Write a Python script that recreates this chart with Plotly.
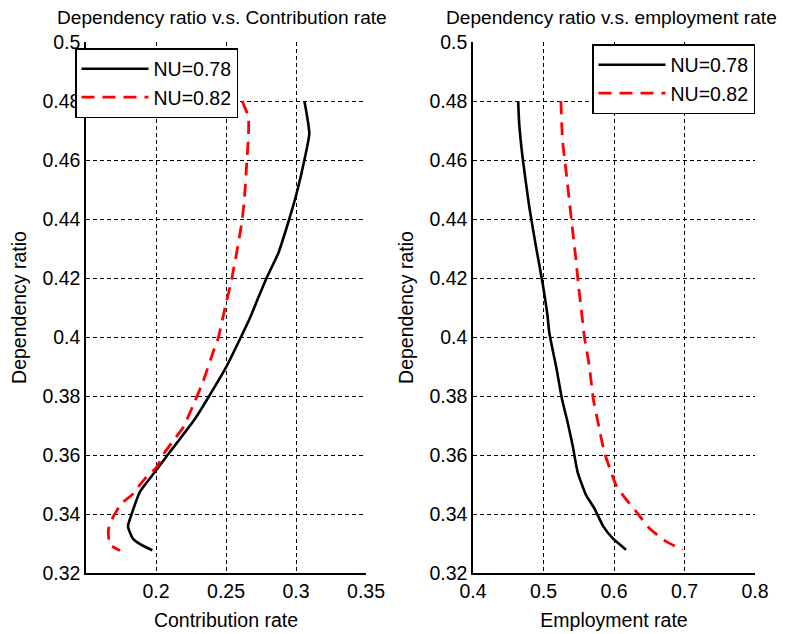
import plotly.graph_objects as go

# ---- data ----
contrib_y_078 = [0.480, 0.469, 0.460, 0.4488, 0.440, 0.4285, 0.420, 0.4128, 0.406, 0.400,
                 0.3895, 0.380, 0.3723, 0.360, 0.3543, 0.3476, 0.340, 0.3358, 0.3318, 0.3298, 0.3277]
contrib_x_078 = [0.306, 0.3095, 0.306, 0.3005, 0.2952, 0.2874, 0.279, 0.2726, 0.2667, 0.2607,
                 0.2498, 0.238, 0.2279, 0.2083, 0.1993, 0.1886, 0.1826, 0.180, 0.1833, 0.1886, 0.1974]

contrib_y_082 = [0.480, 0.4746, 0.4679, 0.4589, 0.4465, 0.4386, 0.4285, 0.4195, 0.4088, 0.3997,
                 0.3952, 0.3851, 0.3784, 0.3694, 0.3649, 0.3610, 0.3559, 0.3520, 0.3464, 0.3436,
                 0.3391, 0.3347, 0.3297, 0.3276]
contrib_x_082 = [0.2615, 0.266, 0.266, 0.2648, 0.2631, 0.2612, 0.2576, 0.254, 0.2488, 0.2445,
                 0.241, 0.2338, 0.2279, 0.2195, 0.2124, 0.2064, 0.2005, 0.1921, 0.1826, 0.1755,
                 0.1695, 0.166, 0.1671, 0.1743]

employ_y_078 = [0.480, 0.4724, 0.4611, 0.4443, 0.4308, 0.4184, 0.4072, 0.4016, 0.3892, 0.3791,
                0.3712, 0.3634, 0.3543, 0.3465, 0.3420, 0.3358, 0.3318, 0.3279]
employ_x_078 = [0.4641, 0.4655, 0.4702, 0.4797, 0.4892, 0.4986, 0.5057, 0.5081, 0.5185, 0.5261,
                0.5341, 0.5412, 0.5483, 0.5602, 0.572, 0.5848, 0.598, 0.617]

employ_y_082 = [0.480, 0.4667, 0.4566, 0.4465, 0.4364, 0.4263, 0.4173, 0.4105, 0.4004, 0.3903,
                0.3791, 0.3701, 0.3611, 0.3543, 0.3499, 0.3465, 0.3409, 0.3352, 0.3307, 0.3279]
employ_x_082 = [0.5247, 0.527, 0.5318, 0.5365, 0.5412, 0.546, 0.5497, 0.5531, 0.5578, 0.5649,
                0.5706, 0.5781, 0.5862, 0.5957, 0.6028, 0.6122, 0.6312, 0.6501, 0.6738, 0.6974]

series_names = ["NU=0.78", "NU=0.82"]
titles = ["Dependency ratio v.s. Contribution rate", "Dependency ratio v.s. employment rate"]
x_titles = ["Contribution rate", "Employment rate"]
y_title = "Dependency ratio"
x1_ticks = [0.2, 0.25, 0.3, 0.35]
x1_text = ["0.2", "0.25", "0.3", "0.35"]
x2_ticks = [0.4, 0.5, 0.6, 0.7, 0.8]
x2_text = ["0.4", "0.5", "0.6", "0.7", "0.8"]
y_ticks = [0.32, 0.34, 0.36, 0.38, 0.40, 0.42, 0.44, 0.46, 0.48, 0.50]
y_text = ["0.32", "0.34", "0.36", "0.38", "0.4", "0.42", "0.44", "0.46", "0.48", "0.5"]

FONT = "Liberation Sans, Arial, sans-serif"
FS = 19.5
FS_TITLE = 19.1
OFF = 8               # page body margin
W, H = 788 - OFF, 634 - OFF

fig = go.Figure()
black = dict(color="black", width=2.6, shape="spline", smoothing=0.5)
red = dict(color="#ff0000", width=2.8, dash="13px,8px", shape="spline", smoothing=0.5)

fig.add_trace(go.Scatter(x=contrib_x_078, y=contrib_y_078, mode="lines", name=series_names[0],
                         line=black, xaxis="x", yaxis="y", legend="legend"))
fig.add_trace(go.Scatter(x=contrib_x_082, y=contrib_y_082, mode="lines", name=series_names[1],
                         line=red, xaxis="x", yaxis="y", legend="legend"))
fig.add_trace(go.Scatter(x=employ_x_078, y=employ_y_078, mode="lines", name=series_names[0],
                         line=black, xaxis="x2", yaxis="y2", legend="legend2"))
fig.add_trace(go.Scatter(x=employ_x_082, y=employ_y_082, mode="lines", name=series_names[1],
                         line=red, xaxis="x2", yaxis="y2", legend="legend2"))

# plot areas (window px, converted to figure px by OFF)
L1, R1 = 86 - OFF, 366 - OFF
L2, R2 = 473 - OFF, 755 - OFF
TOP, BOT = 42 - OFF, 573 - OFF
dx1 = [L1 / W, R1 / W]
dx2 = [L2 / W, R2 / W]
dy = [1 - BOT / H, 1 - TOP / H]

axis_common = dict(showgrid=True, gridcolor="black", gridwidth=1, griddash="4px,3px",
                   showline=True, linecolor="black", linewidth=1.5, mirror=False,
                   zeroline=False, ticks="", automargin=False,
                   tickfont=dict(family=FONT, size=FS, color="black"))

fig.update_layout(
    width=W, height=H,
    margin=dict(l=0, r=0, t=0, b=0),
    paper_bgcolor="white", plot_bgcolor="white",
    font=dict(family=FONT, size=FS, color="black"),
    xaxis=dict(domain=dx1, anchor="y", range=[0.15, 0.3500001], tickvals=x1_ticks, ticktext=x1_text,
               title=dict(text=x_titles[0], standoff=12, font=dict(size=FS)), **axis_common),
    yaxis=dict(domain=dy, anchor="x", range=[0.32, 0.5000001], tickvals=y_ticks, ticktext=y_text,
               title=dict(text=y_title, standoff=19, font=dict(size=FS)), **axis_common),
    xaxis2=dict(domain=dx2, anchor="y2", range=[0.4, 0.8000001], tickvals=x2_ticks, ticktext=x2_text,
                title=dict(text=x_titles[1], standoff=12, font=dict(size=FS)), **axis_common),
    yaxis2=dict(domain=dy, anchor="x2", range=[0.32, 0.5000001], tickvals=y_ticks, ticktext=y_text,
                title=dict(text=y_title, standoff=11, font=dict(size=FS)), **axis_common),
    legend=dict(x=(75 - OFF) / W, y=1 - (48 - OFF) / H, xanchor="left", yanchor="top",
                bgcolor="white", bordercolor="black", borderwidth=1.5,
                font=dict(family=FONT, size=FS, color="black"), itemwidth=67,
                tracegroupgap=0),
    legend2=dict(x=(592 - OFF) / W, y=1 - (44 - OFF) / H, xanchor="left", yanchor="top",
                 bgcolor="white", bordercolor="black", borderwidth=1.5,
                 font=dict(family=FONT, size=FS, color="black"), itemwidth=67,
                 tracegroupgap=0),
    showlegend=True,
)

title_centers = [222 - OFF, 611 - OFF]
for i, c in enumerate(title_centers):
    fig.add_annotation(text=titles[i], xref="paper", yref="paper",
                       x=c / W, y=1 - (18 - OFF) / H, xanchor="center", yanchor="middle",
                       showarrow=False, font=dict(family=FONT, size=FS_TITLE, color="black"))

fig.write_html("out.html")
